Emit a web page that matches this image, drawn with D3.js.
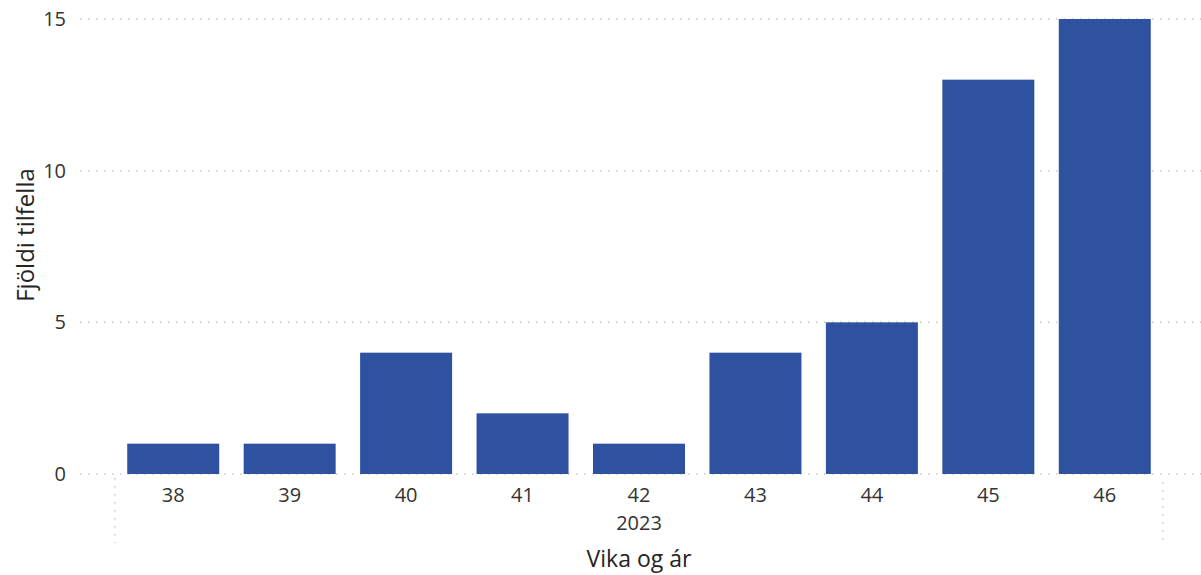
<!DOCTYPE html>
<html>
<head>
<meta charset="utf-8">
<script src="https://cdn.jsdelivr.net/npm/d3@7"></script>
<style>
  body { margin: 0; background: #fff; }
  text { font-family: "Segoe UI", "Open Sans", sans-serif; }
</style>
</head>
<body>
<div id="chart"></div>
<script>
// vikur og fjöldi tilfella
var weeks = ['38', '39', '40', '41', '42', '43', '44', '45', '46'];
var cases = [1, 1, 4, 2, 1, 4, 5, 13, 15];
var yTicks = [0, 5, 10, 15];
var yearLabel = '2023';

var width = 1201, height = 575;

var svg = d3.select('#chart')
  .append('svg')
  .attr('width', width)
  .attr('height', height);

var x = d3.scaleBand()
  .domain(weeks)
  .range([115, 1163])
  .paddingInner(0.21)
  .paddingOuter(0.105);

var y = d3.scaleLinear()
  .domain([0, 15])
  .range([474, 19]);

// gridlines
svg.append('g')
  .selectAll('line')
  .data(yTicks)
  .enter()
  .append('line')
  .attr('x1', 80)
  .attr('x2', width)
  .attr('y1', function(d) { return y(d); })
  .attr('y2', function(d) { return y(d); })
  .attr('stroke', '#c8c8c8')
  .attr('stroke-width', 1.5)
  .attr('stroke-dasharray', '1.5,6.5');

// y tick labels
svg.append('g')
  .selectAll('text')
  .data(yTicks)
  .enter()
  .append('text')
  .attr('x', 66)
  .attr('y', function(d) { return y(d); })
  .attr('dy', '0.35em')
  .attr('text-anchor', 'end')
  .attr('font-size', '20px')
  .attr('fill', '#333')
  .text(function(d) { return d; });

// bars
svg.append('g')
  .selectAll('rect')
  .data(cases)
  .enter()
  .append('rect')
  .attr('x', function(d, i) { return x(weeks[i]); })
  .attr('width', x.bandwidth())
  .attr('y', function(d) { return y(d); })
  .attr('height', function(d) { return y(0) - y(d); })
  .attr('fill', '#2E529F');

// x tick labels
svg.append('g')
  .selectAll('text')
  .data(weeks)
  .enter()
  .append('text')
  .attr('x', function(d) { return x(d) + x.bandwidth() / 2; })
  .attr('y', 495)
  .attr('dy', '0.35em')
  .attr('text-anchor', 'middle')
  .attr('font-size', '20px')
  .attr('fill', '#333')
  .text(function(d) { return d; });

// hierarchy separators
var r = x.range();
svg.append('g')
  .selectAll('line')
  .data([[r[0], 478], [r[1], 482]])
  .enter()
  .append('line')
  .attr('x1', function(d) { return d[0]; })
  .attr('x2', function(d) { return d[0]; })
  .attr('y1', function(d) { return d[1]; })
  .attr('y2', 543)
  .attr('stroke', '#c8c8c8')
  .attr('stroke-width', 1.5)
  .attr('stroke-dasharray', '1.5,6.5');

svg.append('text')
  .attr('x', (r[0] + r[1]) / 2)
  .attr('y', 523)
  .attr('dy', '0.35em')
  .attr('text-anchor', 'middle')
  .attr('font-size', '20px')
  .attr('fill', '#333')
  .text(yearLabel);

// axis titles
svg.append('text')
  .attr('x', (r[0] + r[1]) / 2)
  .attr('y', 559)
  .attr('dy', '0.35em')
  .attr('text-anchor', 'middle')
  .attr('font-size', '23px')
  .attr('fill', '#252423')
  .text('Vika og ár');

svg.append('text')
  .attr('transform', 'translate(26,235) rotate(-90)')
  .attr('dy', '0.35em')
  .attr('text-anchor', 'middle')
  .attr('font-size', '24px')
  .attr('fill', '#252423')
  .text('Fjöldi tilfella');
</script>
</body>
</html>
